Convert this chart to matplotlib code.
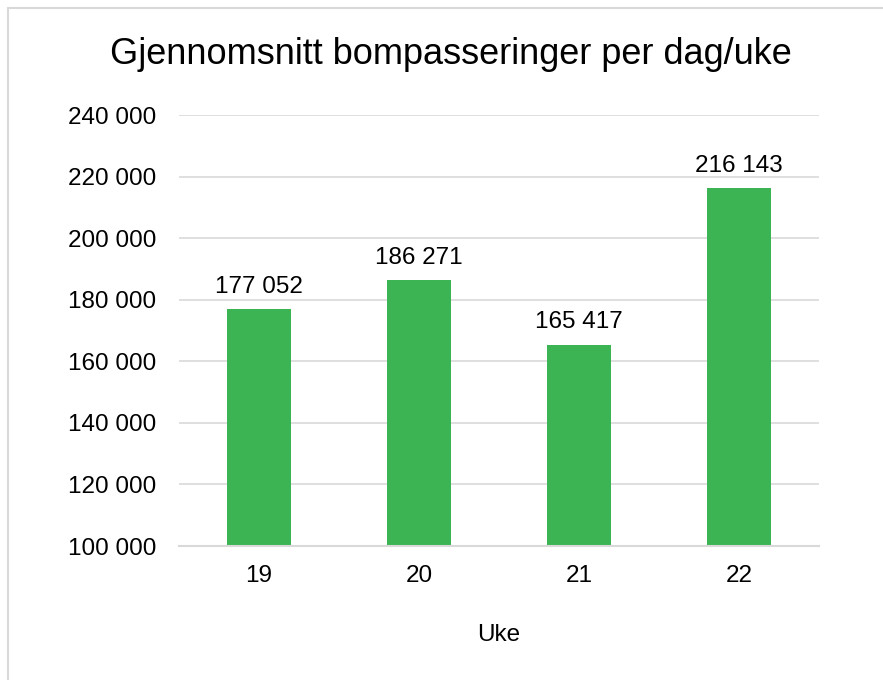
import matplotlib.pyplot as plt
from matplotlib.patches import Rectangle
from matplotlib.ticker import FuncFormatter

plt.rcParams['font.family'] = ['Liberation Sans', 'DejaVu Sans']

# Data
weeks = ['19', '20', '21', '22']
passes = [177052, 186271, 165417, 216143]
y_ticks = [100000, 120000, 140000, 160000, 180000, 200000, 220000, 240000]


def fmt_nb(v):
    # Norwegian thousands separator (space)
    return f"{int(v):,}".replace(",", " ")


W, H = 883, 680
fig = plt.figure(figsize=(W / 100, H / 100), dpi=100)

# light grey outer frame
fig.patches.append(Rectangle((8 / W, -0.1), 1.2, (H - 8.5) / H + 0.1, transform=fig.transFigure,
                             fill=False, edgecolor='#d9d9d9', linewidth=1.5))

ax = fig.add_axes([179 / W, 1 - 546 / H, (819 - 179) / W, (546 - 115) / H])

x = range(len(weeks))
bars = ax.bar(x, passes, width=0.4, color='#3cb454')

ax.set_ylim(100000, 240000)
ax.set_xlim(-0.5, len(weeks) - 0.5)
ax.set_yticks(y_ticks)
ax.yaxis.set_major_formatter(FuncFormatter(lambda v, p: fmt_nb(v)))
ax.set_xticks(list(x))
ax.set_xticklabels(weeks)

ax.grid(axis='y', color='#d9d9d9', linewidth=1.2)
ax.set_axisbelow(True)
for s in ['top', 'right', 'left']:
    ax.spines[s].set_visible(False)
ax.spines['bottom'].set_color('#d9d9d9')
ax.spines['bottom'].set_linewidth(1.5)
ax.tick_params(axis='both', length=0, labelsize=17.5, colors='black')
ax.tick_params(axis='y', pad=16.5)
ax.tick_params(axis='x', pad=14)

for b, v in zip(bars, passes):
    ax.annotate(fmt_nb(v), (b.get_x() + b.get_width() / 2, v), xytext=(0, 8),
                textcoords='offset points', ha='center', va='bottom', fontsize=17.5)

ax.set_xlabel('Uke', fontsize=17.5, labelpad=26)
fig.text(451 / W, 1 - 55 / H, 'Gjennomsnitt bompasseringer per dag/uke',
         ha='center', va='center', fontsize=26)

fig.savefig('out.png', dpi=100, facecolor='white')
